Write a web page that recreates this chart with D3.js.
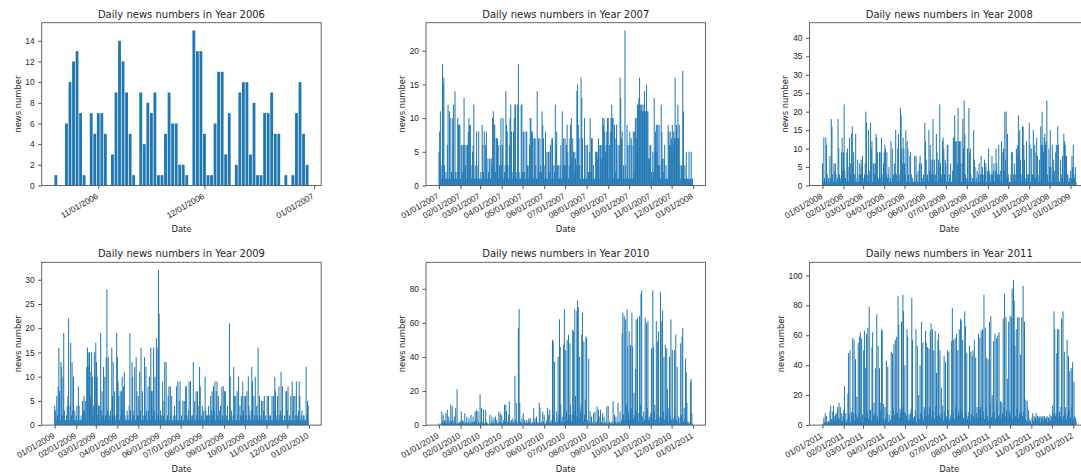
<!DOCTYPE html>
<html>
<head>
<meta charset="utf-8">
<script src="https://cdn.jsdelivr.net/npm/d3@7"></script>
<style>
  html, body { margin: 0; padding: 0; background: #fff; overflow: hidden; }
  svg { display: block; font-family: "DejaVu Sans", sans-serif; }
</style>
</head>
<body>
<svg id="chart" width="1081" height="475"></svg>
<script>
// one panel per year, daily counts starting at firstDays[i]
const years = [2006, 2007, 2008, 2009, 2010, 2011];
const firstDays = ["2006-10-20", "2007-01-01", "2008-01-01", "2009-01-01", "2010-01-01", "2011-01-01"];

const news2006 = [1,0,0,6,10,12,13,7,1,0, 7,5,7,7,5,0,3,9,14,12, 9,5,1,0,9,4,8,7,9,1,
  1,5,9,6,6,2,2,1,0,15, 13,13,5,1,1,6,11,11,3,7, 0,2,9,10,10,3,8,1,1,7, 7,9,5,5,0,1,0,1,7,10, 5,2];

const news2007 = [
  5,8,11,3,1,18,15,16,3,1,2,1,6,12,1,11,10,1,2,10,6,12,1,14,2,1,2,10,9,9,9,
  1,6,6,2,6,13,6,3,6,1,6,8,10,9,9,3,1,5,6,12,1,3,1,8,1,3,8,1,
  1,2,1,9,6,2,8,1,6,8,4,1,2,4,4,1,4,3,10,11,9,9,2,7,7,7,6,1,3,6,10,
  3,6,10,1,2,3,14,9,8,3,1,6,10,12,8,2,1,8,10,12,12,1,2,12,18,2,1,1,12,12,
  2,8,8,2,1,8,8,3,1,3,6,10,10,8,8,7,1,7,7,3,1,14,1,7,2,7,3,2,11,9,7,
  1,3,8,1,5,1,5,5,2,6,1,7,7,1,3,2,12,6,8,3,1,3,1,3,6,1,11,3,7,3,
  7,3,6,9,5,1,3,7,9,10,4,7,5,2,5,4,3,14,15,9,7,3,1,16,13,7,1,1,10,1,6,
  1,6,2,2,5,10,2,7,7,1,3,1,1,5,5,5,4,7,6,1,6,4,6,10,9,10,8,5,6,8,10,
  10,1,6,8,10,12,10,10,1,9,2,7,9,1,6,1,6,16,13,7,8,1,3,1,23,3,1,9,6,1,
  6,8,1,7,6,1,8,2,8,10,10,7,12,12,13,16,12,11,12,11,12,11,14,11,11,15,11,11,4,4,6,
  6,2,1,5,2,13,5,8,9,5,9,3,9,3,1,12,8,4,2,4,6,1,3,1,1,9,8,6,8,6,
  7,9,6,8,7,16,7,9,7,12,7,9,3,1,3,3,17,11,1,3,1,5,1,1,1,5,1,1,5,1,1];

const news2008 = [
  6,1,13,2,1,13,11,3,1,2, 1,8,2,18,16,3,1,6,4,6, 3,1,2,18,10,3,1,2,9,13, 4,9,22,4,2,1,9,10,1,5,
  13,6,3,14,16,6,9,3,1,14, 1,2,7,1,3,6,3,7,5,8, 2,1,3,6,20,17,3,1,15,4, 1,17,10,12,1,6,6,3,6,14,
  13,9,1,2,9,9,2,13,3,1, 6,9,11,10,3,9,2,3,5,1, 2,12,1,10,2,3,6,3,15,3, 1,10,14,3,1,21,19,10,6,13,
  10,6,3,15,1,12,10,3,1,8, 9,3,1,2,1,1,8,1,8,3, 1,4,1,6,8,1,6,1,2,3, 1,17,12,7,2,3,1,15,4,11,
  7,3,7,18,3,7,1,3,14,9, 1,7,5,22,6,2,3,12,13,10, 3,7,6,1,11,11,1,3,2,6, 1,1,4,13,13,19,12,2,12,6,
  21,12,12,6,12,1,6,18,10,23, 14,3,2,1,10,1,21,9,10,3, 1,2,1,15,7,5,1,2,4,1, 3,6,1,3,8,3,5,1,3,7,
  5,6,1,4,3,10,4,3,1,3, 8,3,4,6,1,4,10,6,3,3, 11,3,1,4,12,9,1,10,4,20, 7,20,2,14,3,1,1,1,3,9,
  9,1,3,6,1,3,10,8,11,19, 9,15,7,3,1,16,16,11,7,1, 2,12,3,1,3,17,11,1,10,3, 3,15,3,11,2,9,13,8,3,1,
  7,1,16,11,20,11,9,13,14,11, 12,23,3,1,10,5,15,5,1,11, 3,7,4,1,9,11,1,16,11,1, 1,7,2,3,8,1,14,12,11,8,
  8,3,3,1,2,1, 4,2,8,5,11,3,2,5,1];

const news2009 = [
  4,3,1,6,2,8,16,7,1,13, 12,2,10,19,3,1,1,2,4,6, 22,1,4,17,2,13,3,10,1,3, 1,2,4,1,8,4,1,1,2,1,
  5,3,6,3,5,1,12,16,15,12, 15,6,11,15,10,2,4,15,10,17, 13,10,2,4,4,1,19,3,7,2, 12,1,10,2,14,28,3,14,1,2,
  3,1,16,6,13,2,7,1,2,19, 14,9,6,1,7,2,7,10,3,8, 11,2,1,1,3,2,1,4,19,3, 1,13,10,2,3,12,1,14,7,2,
  6,2,11,3,16,1,7,2,1,14, 2,12,3,1,8,3,10,1,16,7, 7,2,16,3,10,1,18,16,2,32, 23,1,3,2,1,9,2,5,13,1,
  13,1,2,6,8,1,8,2,6,1, 1,2,4,1,2,8,1,9,1,5, 9,1,2,1,5,1,5,2,8,8, 2,1,3,9,1,9,2,1,2,13,
  1,5,1,7,2,7,1,4,12,8, 1,2,4,1,3,1,10,3,2,2, 2,4,2,1,6,3,7,2,8,3, 9,1,7,9,2,6,1,3,4,1,
  8,2,8,1,7,7,1,2,4,1, 1,21,10,2,3,1,2,12,6,1, 6,1,7,2,10,1,4,2,6,2, 9,3,6,1,6,2,7,1,10,4,
  2,1,3,12,9,1,6,2,10,1, 4,2,16,1,6,1,2,5,1,5, 3,6,1,2,1,6,1,6,2,1, 2,1,6,1,6,3,10,7,1,2,
  6,1,8,2,3,11,2,8,1,1, 2,1,7,7,3,8,1,2,1,6, 1,9,3,6,1,6,2,9,1,2, 3,9,6,1,2,3,1,2,2,1,
  1,12,2,5,4];

const news2010 = [
  1,0,0,1,8,2,6,1,3,2, 7,1,9,2,5,1,3,12,2,11, 3,1,5,2,10,1,21,1,1,2, 1,2,8,1,3,2,1,7,1,2,
  5,1,2,4,1,2,6,1,2,5, 1,2,8,3,9,1,8,2,1,18, 2,10,1,2,9,1,1,9,2,1, 1,0,1,6,1,2,5,1,2,4,
  1,5,2,3,1,1,8,2,7,1, 6,1,2,3,12,2,12,8,2,1, 6,14,2,1,3,1,4,2,1,29, 3,13,2,1,57,68,13,2,1,4,
  1,7,2,3,1,2,3,1,2,4, 2,4,1,1,2,1,10,2,4,1, 5,1,2,1,13,10,1,2,1,8, 2,6,1,1,2,3,10,6,1,9,
  2,1,3,50,49,6,37,2,1,8, 2,40,6,62,46,12,2,5,1,47, 68,2,44,8,50,3,53,6,48,12, 2,6,56,55,8,68,17,5,67,73,
  69,4,40,8,12,53,66,2,49,6, 15,52,51,3,1,39,2,8,1,5, 1,2,7,1,8,2,1,11,3,9, 5,1,9,2,1,7,1,5,2,1,
  2,11,1,11,1,2,1,1,2,1, 14,1,6,2,5,1,2,13,1,2, 8,1,3,54,66,6,64,3,62,12, 68,46,8,55,3,47,10,66,46,4,
  19,6,33,62,8,63,2,7,64,12, 77,79,5,2,8,3,63,6,60,10, 61,3,5,2,7,45,4,79,46,8, 12,3,61,6,49,55,2,5,78,61,
  4,67,8,40,3,47,6,45,21,2, 10,40,5,62,3,44,2,4,44,6, 53,3,34,2,5,1,4,48,6,52, 57,2,10,4,39,31,13,2,1,2,
  1,25,27,7,1];

const news2011 = [
  1,0,5,2,8,1,6,2,1,3, 2,9,13,4,2,9,13,6,3,7, 8,3,12,5,15,4,12,2,8,3, 6,10,26,3,8,2,4,21,48,7,
  50,2,9,6,58,8,57,3,44,7, 19,5,55,8,59,62,3,58,7,2, 50,63,5,38,61,9,65,4,79,10, 10,3,52,62,6,15,8,38,4,74,
  6,53,3,38,15,9,64,63,4,14, 3,12,5,43,8,39,2,7,4,3, 49,6,48,11,54,7,57,9,59,8, 86,67,5,11,8,69,12,87,76,9,
  40,8,6,64,59,3,7,4,8,11, 85,57,5,3,6,10,64,2,53,7, 20,4,40,8,69,6,55,3,12,9, 63,55,6,52,7,51,12,63,68,5,
  64,9,50,4,63,13,35,6,57,61, 7,50,5,25,8,13,3,46,9,42, 6,4,50,10,49,3,5,7,56,78, 8,57,4,58,12,61,6,50,9,64,
  7,71,70,9,57,5,3,76,66,8, 48,4,6,9,53,3,49,7,46,50, 6,57,4,45,8,12,5,61,10,58, 12,63,5,64,9,87,4,65,11,45,
  6,44,3,69,14,73,5,20,8,56, 9,61,4,58,13,60,6,62,7,16, 4,15,8,71,12,88,6,72,10,31, 5,69,9,73,7,72,91,4,97,83,
  53,6,64,11,72,5,72,8,47,9, 72,6,93,9,69,4,17,3,16,2, 10,4,2,3,1,5,8,3,6,4, 5,8,3,6,4,6,5,2,6,5,
  5,6,3,6,5,4,5,6,2,5, 4,7,3,6,5,13,8,76,64,6, 8,48,64,5,64,9,6,12,71,4, 76,6,49,8,12,4,57,7,46,10,
  36,5,38,12,42,4,29,6,5,3];

const series = [news2006, news2007, news2008, news2009, news2010, news2011];
const yLimits = [15.75, 24.15, 44.1, 33.6, 95.5, 108.7];
const yTicks = [
  [0, 2, 4, 6, 8, 10, 12, 14],
  [0, 5, 10, 15, 20],
  [0, 5, 10, 15, 20, 25, 30, 35, 40],
  [0, 5, 10, 15, 20, 25, 30],
  [0, 20, 40, 60, 80],
  [0, 20, 40, 60, 80, 100]
];

const DAY = 864e5;
const colLeft = [41.7, 426, 809.5];
const rowTop = [22.7, 262.3];
const plotW = 279.5, plotH = 162.8;
const barColor = "#1f77b4", lineColor = "#555", textColor = "#262626";
const fs = 8.4;

let svg = d3.select("#chart");
let parseDay = d3.utcParse("%Y-%m-%d");

function drawPanel(i) {
  let start = parseDay(firstDays[i]);
  let days = series[i].map((v, k) => ({ date: d3.utcDay.offset(start, k), value: v }));
  let first = +days[0].date, last = +days[days.length - 1].date;
  let pad = 0.4 + 0.05 * ((last - first) / DAY + 0.8);

  let x = d3.scaleUtc()
    .domain([new Date(first - pad * DAY), new Date(last + pad * DAY)])
    .range([0, plotW]);
  let y = d3.scaleLinear().domain([0, yLimits[i]]).range([plotH, 0]);

  let g = svg.append("g")
    .attr("transform", "translate(" + colLeft[i % 3] + "," + rowTop[Math.floor(i / 3)] + ")");

  // bar width is 0.8 day; very thin bars are kept at 1px so they read like the original
  let barW = Math.max(x(new Date(first + 0.8 * DAY)) - x(new Date(first)), 1);
  g.append("g").selectAll("rect")
    .data(days.filter(d => d.value > 0))
    .join("rect")
    .attr("x", d => x(d.date) - barW / 2)
    .attr("width", barW)
    .attr("y", d => y(d.value))
    .attr("height", d => y(0) - y(d.value))
    .attr("fill", barColor);

  let xAxis = g.append("g")
    .attr("transform", "translate(0," + plotH + ")")
    .call(d3.axisBottom(x)
      .ticks(d3.utcMonth.every(1))
      .tickFormat(d3.utcFormat("%m/%d/%Y"))
      .tickSize(3.5)
      .tickSizeOuter(0));
  xAxis.select(".domain").remove();
  xAxis.selectAll("line").attr("stroke", lineColor);
  xAxis.selectAll("text")
    .attr("y", null).attr("dy", null)
    .attr("text-anchor", "end")
    .attr("transform", "translate(0,12.3) rotate(-30)")
    .attr("fill", textColor)
    .style("font-size", fs + "px");

  let yAxis = g.append("g")
    .call(d3.axisLeft(y)
      .tickValues(yTicks[i])
      .tickSize(3.5)
      .tickPadding(3.5)
      .tickSizeOuter(0));
  yAxis.select(".domain").remove();
  yAxis.selectAll("line").attr("stroke", lineColor);
  yAxis.selectAll("text")
    .attr("fill", textColor)
    .style("font-size", fs + "px");

  let labelW = d3.max(yAxis.selectAll("text").nodes(), n => n.getComputedTextLength());

  g.append("rect")
    .attr("width", plotW).attr("height", plotH)
    .attr("fill", "none")
    .attr("stroke", lineColor)
    .attr("stroke-width", 0.9);

  g.append("text")
    .attr("x", plotW / 2).attr("y", -5)
    .attr("text-anchor", "middle")
    .attr("fill", textColor)
    .style("font-size", "10px")
    .text("Daily news numbers in Year " + years[i]);

  g.append("text")
    .attr("x", plotW / 2).attr("y", plotH + 47)
    .attr("text-anchor", "middle")
    .attr("fill", textColor)
    .style("font-size", fs + "px")
    .text("Date");

  g.append("text")
    .attr("transform", "translate(" + (-(7 + labelW + 7.7)) + "," + (plotH / 2) + ") rotate(-90)")
    .attr("dy", "0.35em")
    .attr("text-anchor", "middle")
    .attr("fill", textColor)
    .style("font-size", fs + "px")
    .text("news number");
}

years.forEach((yr, i) => drawPanel(i));
</script>
</body>
</html>
